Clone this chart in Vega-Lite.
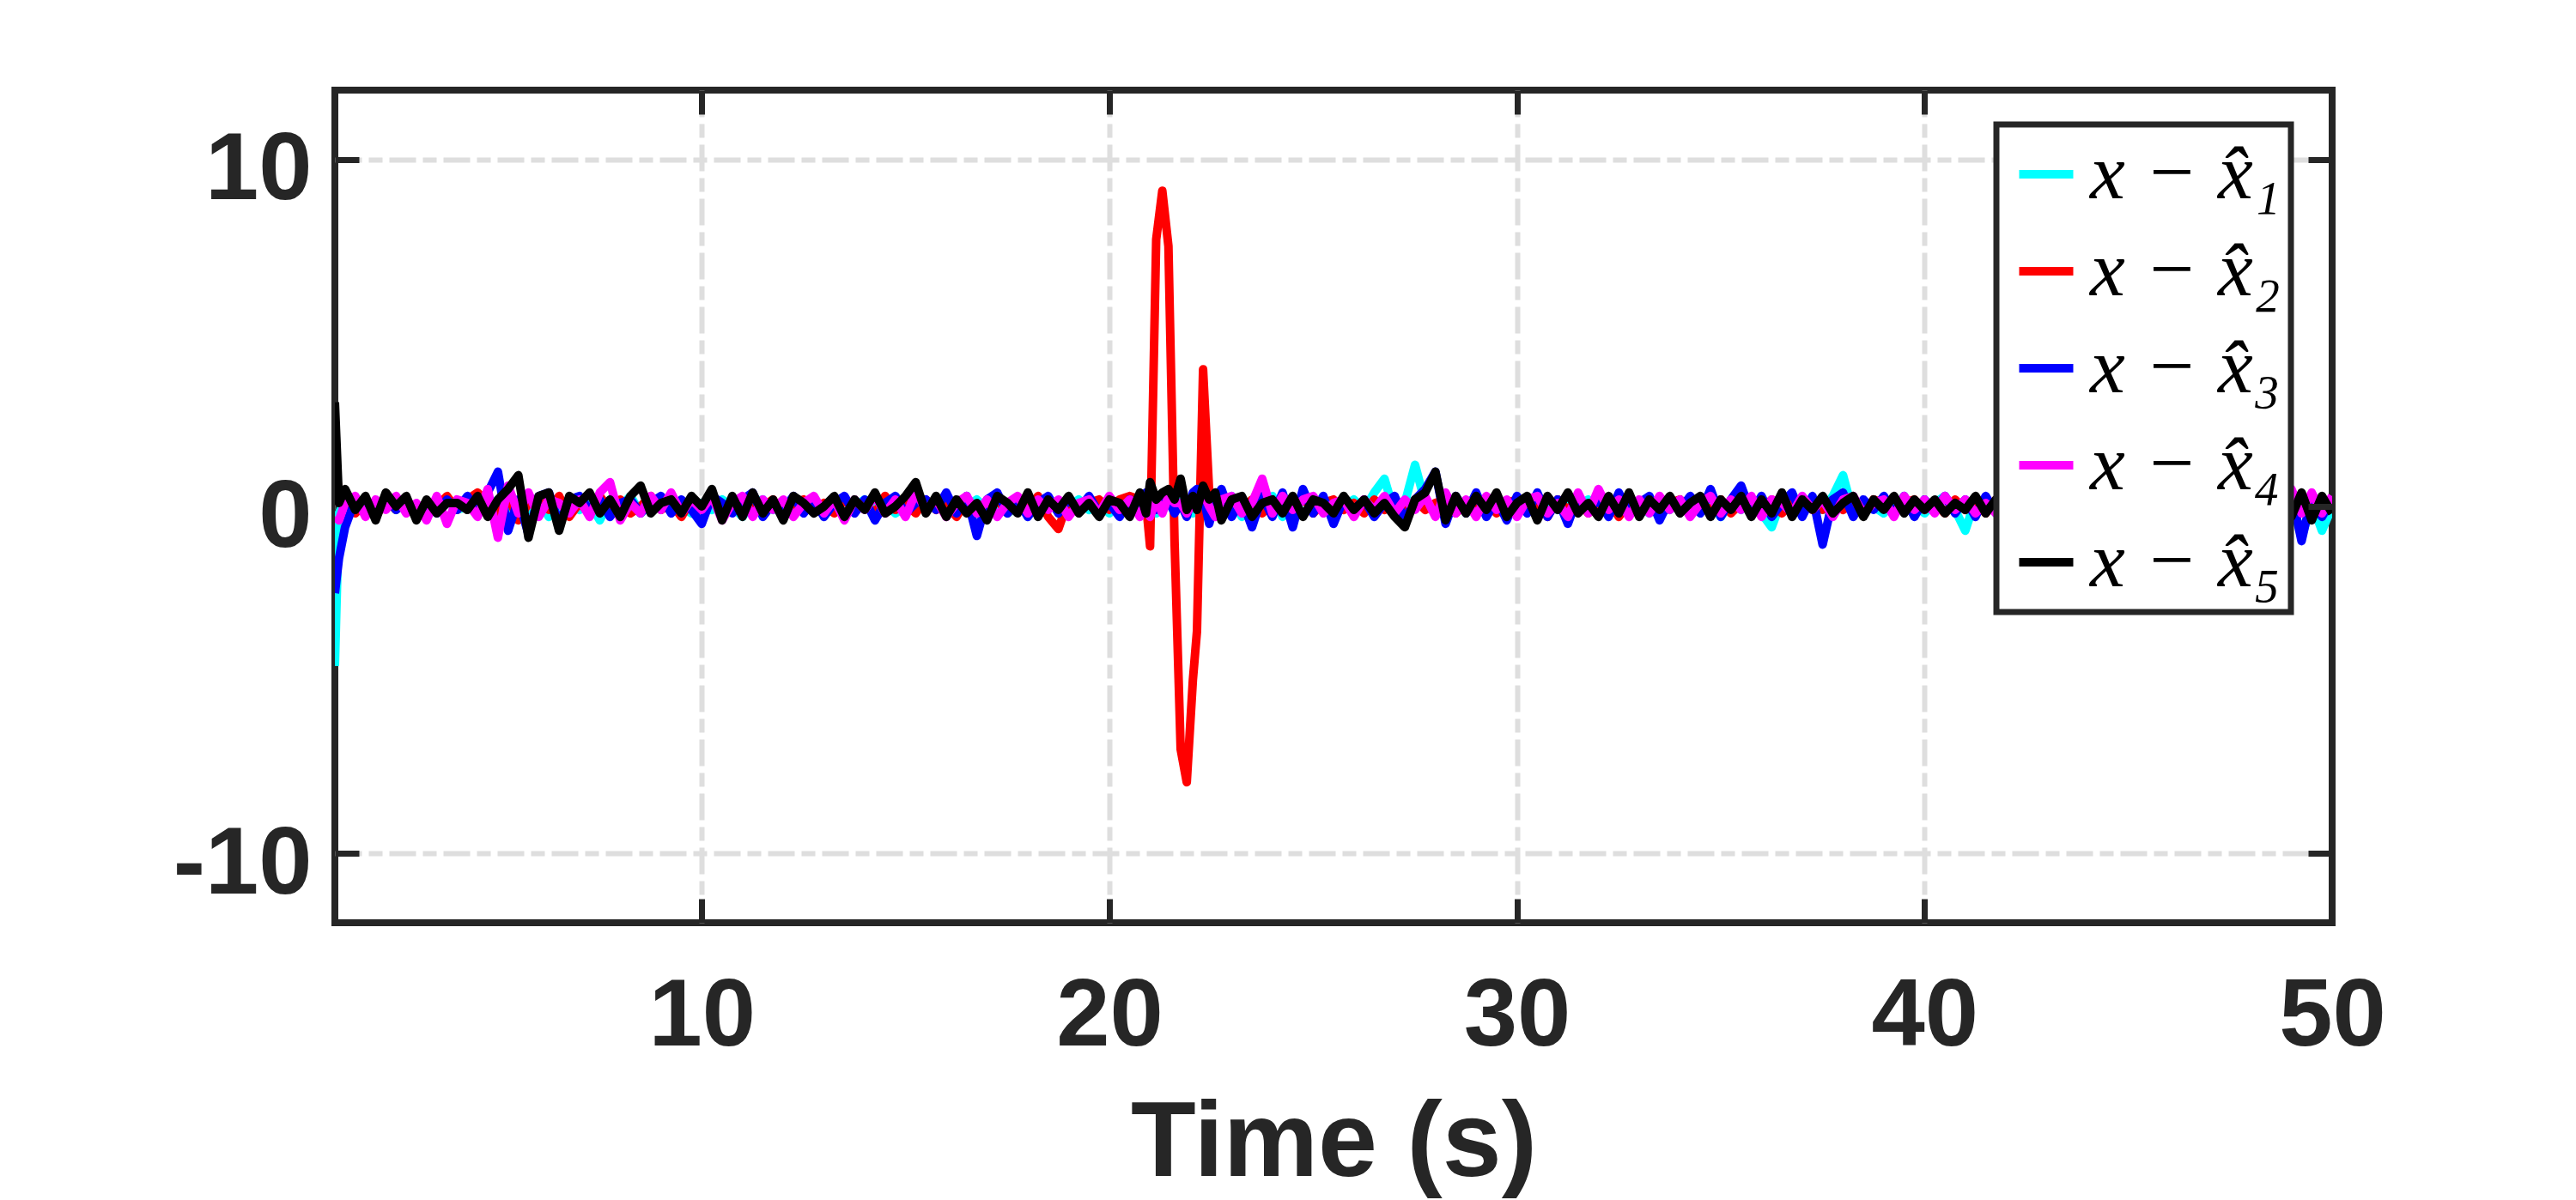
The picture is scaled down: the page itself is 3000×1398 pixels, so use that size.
{
  "$schema": "https://vega.github.io/schema/vega-lite/v6.json",
  "width": 2326,
  "height": 970,
  "autosize": {"type": "none"},
  "padding": {"left": 390, "top": 105, "right": 284, "bottom": 323},
  "background": "white",
  "config": {
    "view": {"stroke": "#262626", "strokeWidth": 8},
    "legend": {"strokeWidth": 7}
  },
  "data": {
    "values": [
      {"t":1.0,"a":-4.6,"b":1.4,"c":-2.5,"d":-0.3,"e":3.0},
      {"t":1.1,"a":-0.2,"b":0.3,"c":-1.5,"d":-0.4,"e":0.1},
      {"t":1.25,"a":0.2,"b":0.1,"c":-0.6,"d":0.1,"e":0.5},
      {"t":1.5,"a":0.1,"b":-0.2,"c":0.2,"d":0.3,"e":-0.1},
      {"t":1.75,"a":-0.2,"b":0.1,"c":0.0,"d":-0.3,"e":0.3},
      {"t":2.0,"a":0.0,"b":-0.3,"c":-0.2,"d":0.2,"e":-0.4},
      {"t":2.25,"a":0.2,"b":0.2,"c":0.3,"d":-0.1,"e":0.4},
      {"t":2.5,"a":-0.1,"b":-0.1,"c":-0.1,"d":0.3,"e":0.0},
      {"t":2.75,"a":0.1,"b":0.2,"c":0.2,"d":-0.2,"e":0.3},
      {"t":3.0,"a":0.0,"b":-0.2,"c":-0.3,"d":0.1,"e":-0.4},
      {"t":3.25,"a":-0.2,"b":0.1,"c":0.1,"d":-0.4,"e":0.2},
      {"t":3.5,"a":0.1,"b":0.0,"c":-0.2,"d":0.3,"e":-0.2},
      {"t":3.75,"a":0.2,"b":0.3,"c":0.2,"d":-0.5,"e":0.1},
      {"t":4.0,"a":-0.1,"b":-0.1,"c":-0.1,"d":0.2,"e":0.1},
      {"t":4.25,"a":0.0,"b":0.2,"c":0.3,"d":0.1,"e":-0.1},
      {"t":4.5,"a":0.3,"b":0.4,"c":-0.2,"d":-0.3,"e":0.3},
      {"t":4.75,"a":-0.1,"b":0.1,"c":0.4,"d":0.5,"e":-0.3},
      {"t":5.0,"a":0.2,"b":-0.2,"c":1.0,"d":-0.9,"e":0.2},
      {"t":5.25,"a":-0.2,"b":0.3,"c":-0.7,"d":0.6,"e":0.5},
      {"t":5.5,"a":0.1,"b":-0.4,"c":0.2,"d":-0.2,"e":0.9},
      {"t":5.75,"a":-0.1,"b":0.1,"c":-0.8,"d":0.4,"e":-0.9},
      {"t":6.0,"a":0.2,"b":0.2,"c":0.3,"d":-0.3,"e":0.3},
      {"t":6.25,"a":-0.3,"b":-0.1,"c":0.4,"d":0.2,"e":0.4},
      {"t":6.5,"a":0.0,"b":0.3,"c":-0.5,"d":0.1,"e":-0.7},
      {"t":6.75,"a":0.2,"b":-0.3,"c":0.2,"d":-0.2,"e":0.3},
      {"t":7.0,"a":-0.1,"b":0.1,"c":0.3,"d":0.2,"e":0.1},
      {"t":7.25,"a":0.1,"b":-0.2,"c":-0.1,"d":-0.3,"e":0.4},
      {"t":7.5,"a":-0.4,"b":0.3,"c":0.2,"d":0.4,"e":-0.2},
      {"t":7.75,"a":0.2,"b":-0.1,"c":-0.3,"d":0.7,"e":0.2},
      {"t":8.0,"a":0.0,"b":0.2,"c":0.1,"d":-0.4,"e":-0.3},
      {"t":8.25,"a":0.3,"b":-0.2,"c":0.2,"d":0.1,"e":0.3},
      {"t":8.5,"a":-0.2,"b":0.0,"c":-0.2,"d":-0.2,"e":0.6},
      {"t":8.75,"a":0.1,"b":0.3,"c":0.1,"d":0.3,"e":-0.2},
      {"t":9.0,"a":-0.1,"b":-0.1,"c":0.3,"d":-0.1,"e":0.1},
      {"t":9.25,"a":0.2,"b":0.1,"c":-0.2,"d":0.4,"e":0.2},
      {"t":9.5,"a":0.0,"b":-0.3,"c":0.2,"d":-0.2,"e":-0.2},
      {"t":9.75,"a":-0.2,"b":0.2,"c":-0.1,"d":0.2,"e":0.3},
      {"t":10.0,"a":0.1,"b":-0.1,"c":-0.5,"d":-0.1,"e":0.0},
      {"t":10.25,"a":-0.1,"b":0.3,"c":0.3,"d":0.3,"e":0.5},
      {"t":10.5,"a":0.2,"b":-0.2,"c":0.1,"d":-0.4,"e":-0.4},
      {"t":10.75,"a":0.0,"b":0.1,"c":-0.2,"d":0.1,"e":0.3},
      {"t":11.0,"a":-0.3,"b":0.2,"c":0.2,"d":0.3,"e":-0.3},
      {"t":11.25,"a":0.1,"b":-0.1,"c":0.4,"d":-0.3,"e":0.4},
      {"t":11.5,"a":0.2,"b":0.0,"c":-0.3,"d":0.2,"e":-0.2},
      {"t":11.75,"a":-0.1,"b":0.2,"c":0.1,"d":-0.1,"e":0.2},
      {"t":12.0,"a":0.1,"b":-0.3,"c":-0.1,"d":0.2,"e":-0.4},
      {"t":12.25,"a":-0.2,"b":0.1,"c":0.3,"d":-0.3,"e":0.3},
      {"t":12.5,"a":0.0,"b":0.2,"c":-0.2,"d":0.1,"e":0.1},
      {"t":12.75,"a":0.2,"b":-0.1,"c":0.2,"d":0.3,"e":-0.2},
      {"t":13.0,"a":-0.1,"b":0.1,"c":-0.3,"d":-0.2,"e":0.0},
      {"t":13.25,"a":0.1,"b":-0.2,"c":0.1,"d":0.2,"e":0.3},
      {"t":13.5,"a":-0.2,"b":0.2,"c":0.3,"d":-0.4,"e":-0.3},
      {"t":13.75,"a":0.0,"b":-0.1,"c":-0.2,"d":0.2,"e":0.2},
      {"t":14.0,"a":0.2,"b":0.1,"c":0.2,"d":-0.1,"e":-0.1},
      {"t":14.25,"a":-0.1,"b":-0.2,"c":-0.4,"d":0.3,"e":0.4},
      {"t":14.5,"a":0.1,"b":0.3,"c":0.1,"d":-0.2,"e":-0.2},
      {"t":14.75,"a":-0.2,"b":-0.1,"c":0.3,"d":0.2,"e":0.0},
      {"t":15.0,"a":0.0,"b":0.1,"c":-0.2,"d":-0.3,"e":0.3},
      {"t":15.25,"a":0.2,"b":-0.2,"c":0.1,"d":0.4,"e":0.7},
      {"t":15.5,"a":-0.1,"b":0.2,"c":0.2,"d":-0.1,"e":-0.2},
      {"t":15.75,"a":0.1,"b":-0.1,"c":-0.1,"d":0.2,"e":0.3},
      {"t":16.0,"a":-0.2,"b":0.1,"c":0.4,"d":-0.3,"e":-0.3},
      {"t":16.25,"a":0.1,"b":-0.3,"c":-0.2,"d":0.1,"e":0.2},
      {"t":16.5,"a":0.0,"b":0.2,"c":0.3,"d":0.3,"e":-0.2},
      {"t":16.75,"a":0.2,"b":-0.1,"c":-0.85,"d":-0.2,"e":0.1},
      {"t":17.0,"a":-0.1,"b":0.1,"c":0.2,"d":0.2,"e":-0.4},
      {"t":17.25,"a":0.1,"b":0.2,"c":0.4,"d":-0.3,"e":0.3},
      {"t":17.5,"a":-0.2,"b":-0.2,"c":-0.2,"d":0.1,"e":0.1},
      {"t":17.75,"a":0.0,"b":0.1,"c":0.2,"d":0.3,"e":-0.2},
      {"t":18.0,"a":0.1,"b":-0.1,"c":-0.3,"d":-0.2,"e":0.4},
      {"t":18.25,"a":-0.1,"b":0.3,"c":0.1,"d":0.2,"e":-0.3},
      {"t":18.5,"a":0.2,"b":-0.3,"c":0.3,"d":-0.1,"e":0.2},
      {"t":18.75,"a":-0.1,"b":-0.65,"c":-0.2,"d":0.2,"e":-0.1},
      {"t":19.0,"a":0.0,"b":0.2,"c":0.2,"d":-0.3,"e":0.3},
      {"t":19.25,"a":0.2,"b":-0.1,"c":-0.1,"d":0.1,"e":-0.2},
      {"t":19.5,"a":-0.1,"b":0.1,"c":0.3,"d":0.2,"e":0.1},
      {"t":19.75,"a":0.1,"b":0.2,"c":-0.2,"d":-0.2,"e":-0.3},
      {"t":20.0,"a":-0.2,"b":-0.1,"c":0.1,"d":0.3,"e":0.2},
      {"t":20.25,"a":0.1,"b":0.2,"c":-0.3,"d":-0.1,"e":0.1},
      {"t":20.5,"a":0.0,"b":0.3,"c":0.2,"d":0.2,"e":-0.3},
      {"t":20.75,"a":0.2,"b":0.2,"c":-0.1,"d":-0.3,"e":0.4},
      {"t":20.9,"a":-0.1,"b":0.1,"c":0.4,"d":0.1,"e":-0.2},
      {"t":21.0,"a":0.1,"b":-1.15,"c":0.2,"d":-0.3,"e":0.7},
      {"t":21.15,"a":-0.2,"b":7.7,"c":-0.1,"d":0.2,"e":0.2},
      {"t":21.3,"a":0.0,"b":9.1,"c":0.3,"d":-0.2,"e":0.4},
      {"t":21.45,"a":0.1,"b":7.5,"c":0.2,"d":0.3,"e":0.5},
      {"t":21.6,"a":-0.1,"b":-1.0,"c":-0.2,"d":0.1,"e":0.2},
      {"t":21.75,"a":0.2,"b":-7.0,"c":0.1,"d":0.1,"e":0.8},
      {"t":21.9,"a":0.0,"b":-7.95,"c":-0.3,"d":-0.2,"e":-0.1},
      {"t":22.05,"a":-0.2,"b":-5.0,"c":0.4,"d":0.1,"e":0.3},
      {"t":22.15,"a":0.1,"b":-3.6,"c":0.5,"d":0.2,"e":-0.1},
      {"t":22.3,"a":-0.1,"b":3.95,"c":0.3,"d":0.4,"e":0.6},
      {"t":22.45,"a":0.0,"b":0.4,"c":-0.5,"d":0.0,"e":0.2},
      {"t":22.6,"a":0.2,"b":-0.2,"c":0.2,"d":-0.3,"e":0.4},
      {"t":22.75,"a":-0.1,"b":0.2,"c":0.5,"d":0.2,"e":-0.4},
      {"t":23.0,"a":0.3,"b":0.1,"c":-0.3,"d":0.3,"e":0.2},
      {"t":23.25,"a":-0.3,"b":-0.1,"c":0.2,"d":-0.2,"e":0.3},
      {"t":23.5,"a":0.1,"b":0.2,"c":-0.6,"d":0.1,"e":-0.3},
      {"t":23.75,"a":0.0,"b":-0.2,"c":0.3,"d":0.8,"e":0.1},
      {"t":24.0,"a":0.3,"b":0.1,"c":-0.3,"d":-0.2,"e":0.2},
      {"t":24.25,"a":-0.3,"b":0.2,"c":0.4,"d":0.3,"e":-0.2},
      {"t":24.5,"a":0.1,"b":-0.1,"c":-0.6,"d":-0.1,"e":0.3},
      {"t":24.75,"a":0.2,"b":0.3,"c":0.5,"d":0.2,"e":-0.3},
      {"t":25.0,"a":-0.1,"b":-0.2,"c":-0.2,"d":0.3,"e":0.2},
      {"t":25.25,"a":0.1,"b":0.1,"c":0.3,"d":-0.2,"e":0.1},
      {"t":25.5,"a":-0.2,"b":0.2,"c":-0.5,"d":0.1,"e":-0.2},
      {"t":25.75,"a":0.0,"b":-0.1,"c":0.2,"d":0.2,"e":0.3},
      {"t":26.0,"a":0.2,"b":0.1,"c":-0.1,"d":-0.3,"e":-0.1},
      {"t":26.25,"a":-0.1,"b":-0.2,"c":0.2,"d":0.2,"e":0.2},
      {"t":26.5,"a":0.4,"b":0.2,"c":-0.3,"d":-0.1,"e":-0.2},
      {"t":26.75,"a":0.8,"b":-0.1,"c":0.1,"d":0.3,"e":0.1},
      {"t":27.0,"a":-0.2,"b":0.1,"c":0.3,"d":-0.2,"e":-0.3},
      {"t":27.25,"a":0.1,"b":-0.2,"c":-0.4,"d":0.2,"e":-0.6},
      {"t":27.5,"a":1.2,"b":0.2,"c":0.2,"d":-0.1,"e":0.2},
      {"t":27.75,"a":0.1,"b":-0.1,"c":0.5,"d":0.3,"e":0.4},
      {"t":28.0,"a":-0.2,"b":0.1,"c":1.0,"d":-0.3,"e":1.0},
      {"t":28.25,"a":0.2,"b":0.2,"c":-0.5,"d":0.4,"e":-0.4},
      {"t":28.5,"a":-0.1,"b":-0.2,"c":0.3,"d":-0.2,"e":0.3},
      {"t":28.75,"a":0.1,"b":0.1,"c":-0.2,"d":0.2,"e":-0.2},
      {"t":29.0,"a":0.0,"b":-0.1,"c":0.4,"d":-0.3,"e":0.3},
      {"t":29.25,"a":-0.2,"b":0.2,"c":-0.3,"d":0.3,"e":-0.1},
      {"t":29.5,"a":0.2,"b":-0.2,"c":0.2,"d":-0.1,"e":0.4},
      {"t":29.75,"a":-0.1,"b":0.1,"c":-0.4,"d":0.2,"e":-0.3},
      {"t":30.0,"a":0.1,"b":0.2,"c":0.3,"d":-0.3,"e":0.1},
      {"t":30.25,"a":0.0,"b":-0.1,"c":-0.2,"d":0.2,"e":0.3},
      {"t":30.5,"a":-0.2,"b":0.1,"c":0.4,"d":0.3,"e":-0.4},
      {"t":30.75,"a":0.2,"b":-0.3,"c":-0.3,"d":-0.2,"e":0.3},
      {"t":31.0,"a":-0.1,"b":0.2,"c":0.2,"d":0.1,"e":-0.1},
      {"t":31.25,"a":0.1,"b":-0.1,"c":-0.5,"d":-0.3,"e":0.4},
      {"t":31.5,"a":0.0,"b":0.2,"c":0.3,"d":0.4,"e":-0.2},
      {"t":31.75,"a":0.2,"b":-0.2,"c":-0.1,"d":-0.2,"e":0.1},
      {"t":32.0,"a":-0.2,"b":0.1,"c":0.2,"d":0.5,"e":-0.3},
      {"t":32.25,"a":0.1,"b":0.2,"c":-0.3,"d":-0.1,"e":0.3},
      {"t":32.5,"a":-0.1,"b":-0.3,"c":0.4,"d":0.2,"e":-0.2},
      {"t":32.75,"a":0.2,"b":0.1,"c":-0.2,"d":-0.3,"e":0.4},
      {"t":33.0,"a":0.0,"b":-0.1,"c":0.1,"d":0.2,"e":-0.3},
      {"t":33.25,"a":-0.2,"b":0.2,"c":0.3,"d":-0.2,"e":0.2},
      {"t":33.5,"a":0.1,"b":-0.2,"c":-0.4,"d":0.3,"e":-0.1},
      {"t":33.75,"a":-0.1,"b":0.1,"c":0.2,"d":-0.1,"e":0.3},
      {"t":34.0,"a":0.2,"b":0.2,"c":-0.1,"d":0.2,"e":-0.2},
      {"t":34.25,"a":-0.1,"b":-0.2,"c":0.3,"d":-0.3,"e":0.1},
      {"t":34.5,"a":0.0,"b":0.1,"c":-0.2,"d":0.1,"e":0.3},
      {"t":34.75,"a":0.1,"b":-0.1,"c":0.5,"d":0.3,"e":-0.3},
      {"t":35.0,"a":-0.3,"b":0.2,"c":-0.3,"d":-0.2,"e":0.2},
      {"t":35.25,"a":0.1,"b":-0.2,"c":0.2,"d":0.2,"e":-0.1},
      {"t":35.5,"a":-0.1,"b":0.1,"c":0.6,"d":-0.1,"e":0.3},
      {"t":35.75,"a":0.2,"b":0.2,"c":-0.2,"d":0.3,"e":-0.3},
      {"t":36.0,"a":-0.2,"b":-0.1,"c":0.3,"d":-0.3,"e":0.2},
      {"t":36.25,"a":-0.6,"b":0.2,"c":-0.3,"d":0.2,"e":-0.2},
      {"t":36.5,"a":0.2,"b":-0.2,"c":0.1,"d":0.1,"e":0.4},
      {"t":36.75,"a":0.0,"b":0.1,"c":0.4,"d":-0.2,"e":-0.3},
      {"t":37.0,"a":-0.2,"b":-0.1,"c":-0.3,"d":0.3,"e":0.2},
      {"t":37.25,"a":0.1,"b":0.2,"c":0.3,"d":-0.1,"e":-0.1},
      {"t":37.5,"a":-0.1,"b":-0.1,"c":-1.1,"d":0.2,"e":0.3},
      {"t":37.75,"a":0.3,"b":0.2,"c":0.2,"d":-0.3,"e":-0.2},
      {"t":38.0,"a":0.9,"b":-0.1,"c":0.4,"d":0.2,"e":0.1},
      {"t":38.25,"a":-0.2,"b":0.1,"c":-0.3,"d":0.3,"e":0.3},
      {"t":38.5,"a":0.1,"b":-0.2,"c":0.2,"d":-0.2,"e":-0.3},
      {"t":38.75,"a":0.0,"b":0.2,"c":-0.1,"d":0.1,"e":0.2},
      {"t":39.0,"a":-0.2,"b":0.1,"c":0.3,"d":0.2,"e":-0.1},
      {"t":39.25,"a":0.2,"b":-0.2,"c":-0.2,"d":-0.3,"e":0.3},
      {"t":39.5,"a":-0.1,"b":0.1,"c":0.3,"d":0.3,"e":-0.2},
      {"t":39.75,"a":0.1,"b":0.2,"c":-0.3,"d":-0.1,"e":0.2},
      {"t":40.0,"a":-0.2,"b":-0.1,"c":0.2,"d":0.2,"e":-0.1},
      {"t":40.25,"a":0.1,"b":0.1,"c":-0.1,"d":-0.2,"e":0.2},
      {"t":40.5,"a":0.3,"b":-0.2,"c":0.3,"d":0.3,"e":-0.2},
      {"t":40.75,"a":-0.1,"b":0.2,"c":-0.2,"d":-0.1,"e":0.1},
      {"t":41.0,"a":-0.7,"b":-0.1,"c":0.2,"d":0.2,"e":-0.1},
      {"t":41.25,"a":0.2,"b":0.1,"c":-0.3,"d":-0.2,"e":0.3},
      {"t":41.5,"a":0.0,"b":-0.2,"c":0.3,"d":0.1,"e":-0.2},
      {"t":41.75,"a":0.1,"b":0.2,"c":-0.2,"d":-0.2,"e":0.2},
      {"t":42.0,"a":0.1,"b":-0.1,"c":0.3,"d":-0.2,"e":0.2},
      {"t":42.5,"a":-0.2,"b":0.2,"c":-0.3,"d":0.3,"e":-0.3},
      {"t":43.0,"a":0.2,"b":-0.2,"c":0.2,"d":-0.1,"e":0.3},
      {"t":43.5,"a":-0.1,"b":0.1,"c":-0.4,"d":0.2,"e":-0.2},
      {"t":44.0,"a":0.1,"b":0.2,"c":0.3,"d":-0.3,"e":0.1},
      {"t":44.5,"a":-0.2,"b":-0.1,"c":-0.2,"d":0.2,"e":-0.3},
      {"t":45.0,"a":0.2,"b":0.1,"c":0.4,"d":-0.2,"e":0.2},
      {"t":45.5,"a":-0.1,"b":-0.2,"c":-0.3,"d":0.3,"e":-0.1},
      {"t":46.0,"a":0.1,"b":0.2,"c":0.2,"d":-0.1,"e":0.3},
      {"t":46.5,"a":-0.2,"b":-0.1,"c":-0.3,"d":0.2,"e":-0.2},
      {"t":47.0,"a":0.2,"b":0.1,"c":0.3,"d":-0.3,"e":0.2},
      {"t":47.5,"a":-0.1,"b":-0.2,"c":-0.2,"d":0.2,"e":-0.3},
      {"t":48.0,"a":0.1,"b":0.2,"c":0.3,"d":-0.2,"e":0.2},
      {"t":48.5,"a":-0.2,"b":-0.1,"c":-0.4,"d":0.3,"e":-0.1},
      {"t":48.75,"a":0.3,"b":0.2,"c":0.5,"d":0.4,"e":0.4},
      {"t":49.0,"a":0.2,"b":-0.2,"c":0.4,"d":0.5,"e":-0.3},
      {"t":49.25,"a":-0.9,"b":0.1,"c":-1.0,"d":-0.2,"e":0.4},
      {"t":49.5,"a":0.1,"b":-0.3,"c":0.3,"d":0.4,"e":-0.4},
      {"t":49.75,"a":-0.7,"b":0.2,"c":-0.3,"d":-0.2,"e":0.3},
      {"t":50.0,"a":0.0,"b":-0.1,"c":0.2,"d":0.3,"e":-0.2}
    ]
  },
  "transform": [
    {"fold": ["a", "b", "c", "d", "e"], "as": ["series", "value"]}
  ],
  "layer": [
    {
      "mark": {"type": "line", "strokeWidth": 10, "strokeJoin": "round", "clip": true},
      "encoding": {
        "x": {
          "field": "t", "type": "quantitative",
          "scale": {"domain": [1, 50], "nice": false, "zero": false},
          "axis": {
            "orient": "bottom", "values": [10, 20, 30, 40, 50], "title": "Time (s)",
            "grid": true,
            "gridColor": {"condition": {"test": "datum.value >= 50", "value": "transparent"}, "value": "#dedede"},
            "gridWidth": 6, "gridDash": [31, 8, 16, 8],
            "domain": false, "ticks": true, "tickSize": -28, "tickWidth": 7, "tickColor": "#262626",
            "labelFont": "Liberation Sans", "labelFontWeight": "bold", "labelFontSize": 112,
            "labelColor": "#262626", "labelBaseline": "alphabetic", "labelPadding": 170,
            "labelFlush": false, "labelOverlap": false, "labelLimit": 1000,
            "titleFont": "Liberation Sans", "titleFontSize": 124, "titleFontWeight": "bold",
            "titleColor": "#262626", "titleBaseline": "alphabetic", "titleY": 294
          }
        },
        "y": {
          "field": "value", "type": "quantitative",
          "scale": {"domain": [-12, 12], "nice": false, "zero": false},
          "axis": {
            "orient": "left", "values": [-10, 0, 10], "title": null,
            "grid": true, "gridColor": "#dedede", "gridWidth": 6, "gridDash": [31, 8, 16, 8],
            "domain": false, "ticks": true, "tickSize": -28, "tickWidth": 7, "tickColor": "#262626",
            "labelFont": "Liberation Sans", "labelFontWeight": "bold", "labelFontSize": 112,
            "labelColor": "#262626", "labelBaseline": "alphabetic", "labelPadding": 55,
            "labelOffset": 46, "labelFlush": false, "labelOverlap": false, "labelLimit": 1000,
            "labelExpr": "datum.value < 0 ? '-' + format(-datum.value, 'd') : format(datum.value, 'd')"
          }
        },
        "color": {
          "field": "series", "type": "nominal",
          "scale": {"domain": ["a", "b", "c", "d", "e"], "range": ["#00ffff", "#ff0000", "#0000ff", "#ff00ff", "#000000"]},
          "legend": {
            "orient": "none", "legendX": 1935, "legendY": 40, "title": null,
            "symbolType": "stroke", "symbolSize": 3969, "symbolStrokeWidth": 10,
            "labelFont": "Liberation Serif", "labelFontStyle": "italic", "labelFontSize": 92,
            "labelColor": "#000000", "labelOffset": 5, "labelLimit": 1000,
            "rowPadding": 21, "padding": 12,
            "strokeColor": "#262626", "fillColor": "#ffffff",
            "labelExpr": "datum.value === 'a' ? 'x − x̂₁' : datum.value === 'b' ? 'x − x̂₂' : datum.value === 'c' ? 'x − x̂₃' : datum.value === 'd' ? 'x − x̂₄' : 'x − x̂₅'"
          }
        }
      }
    },
    {
      "mark": {"type": "point", "opacity": 0},
      "encoding": {
        "x": {
          "field": "t", "type": "quantitative",
          "axis": {
            "orient": "top", "values": [10, 20, 30, 40, 50], "title": null, "labels": false,
            "grid": false, "domain": false, "tickSize": -28, "tickWidth": 7, "tickColor": "#262626", "zindex": 1
          }
        },
        "y": {
          "field": "value", "type": "quantitative",
          "axis": {
            "orient": "right", "values": [-10, 0, 10], "title": null, "labels": false,
            "grid": false, "domain": false, "tickSize": -28, "tickWidth": 7, "tickColor": "#262626", "zindex": 1
          }
        }
      }
    }
  ]
}
